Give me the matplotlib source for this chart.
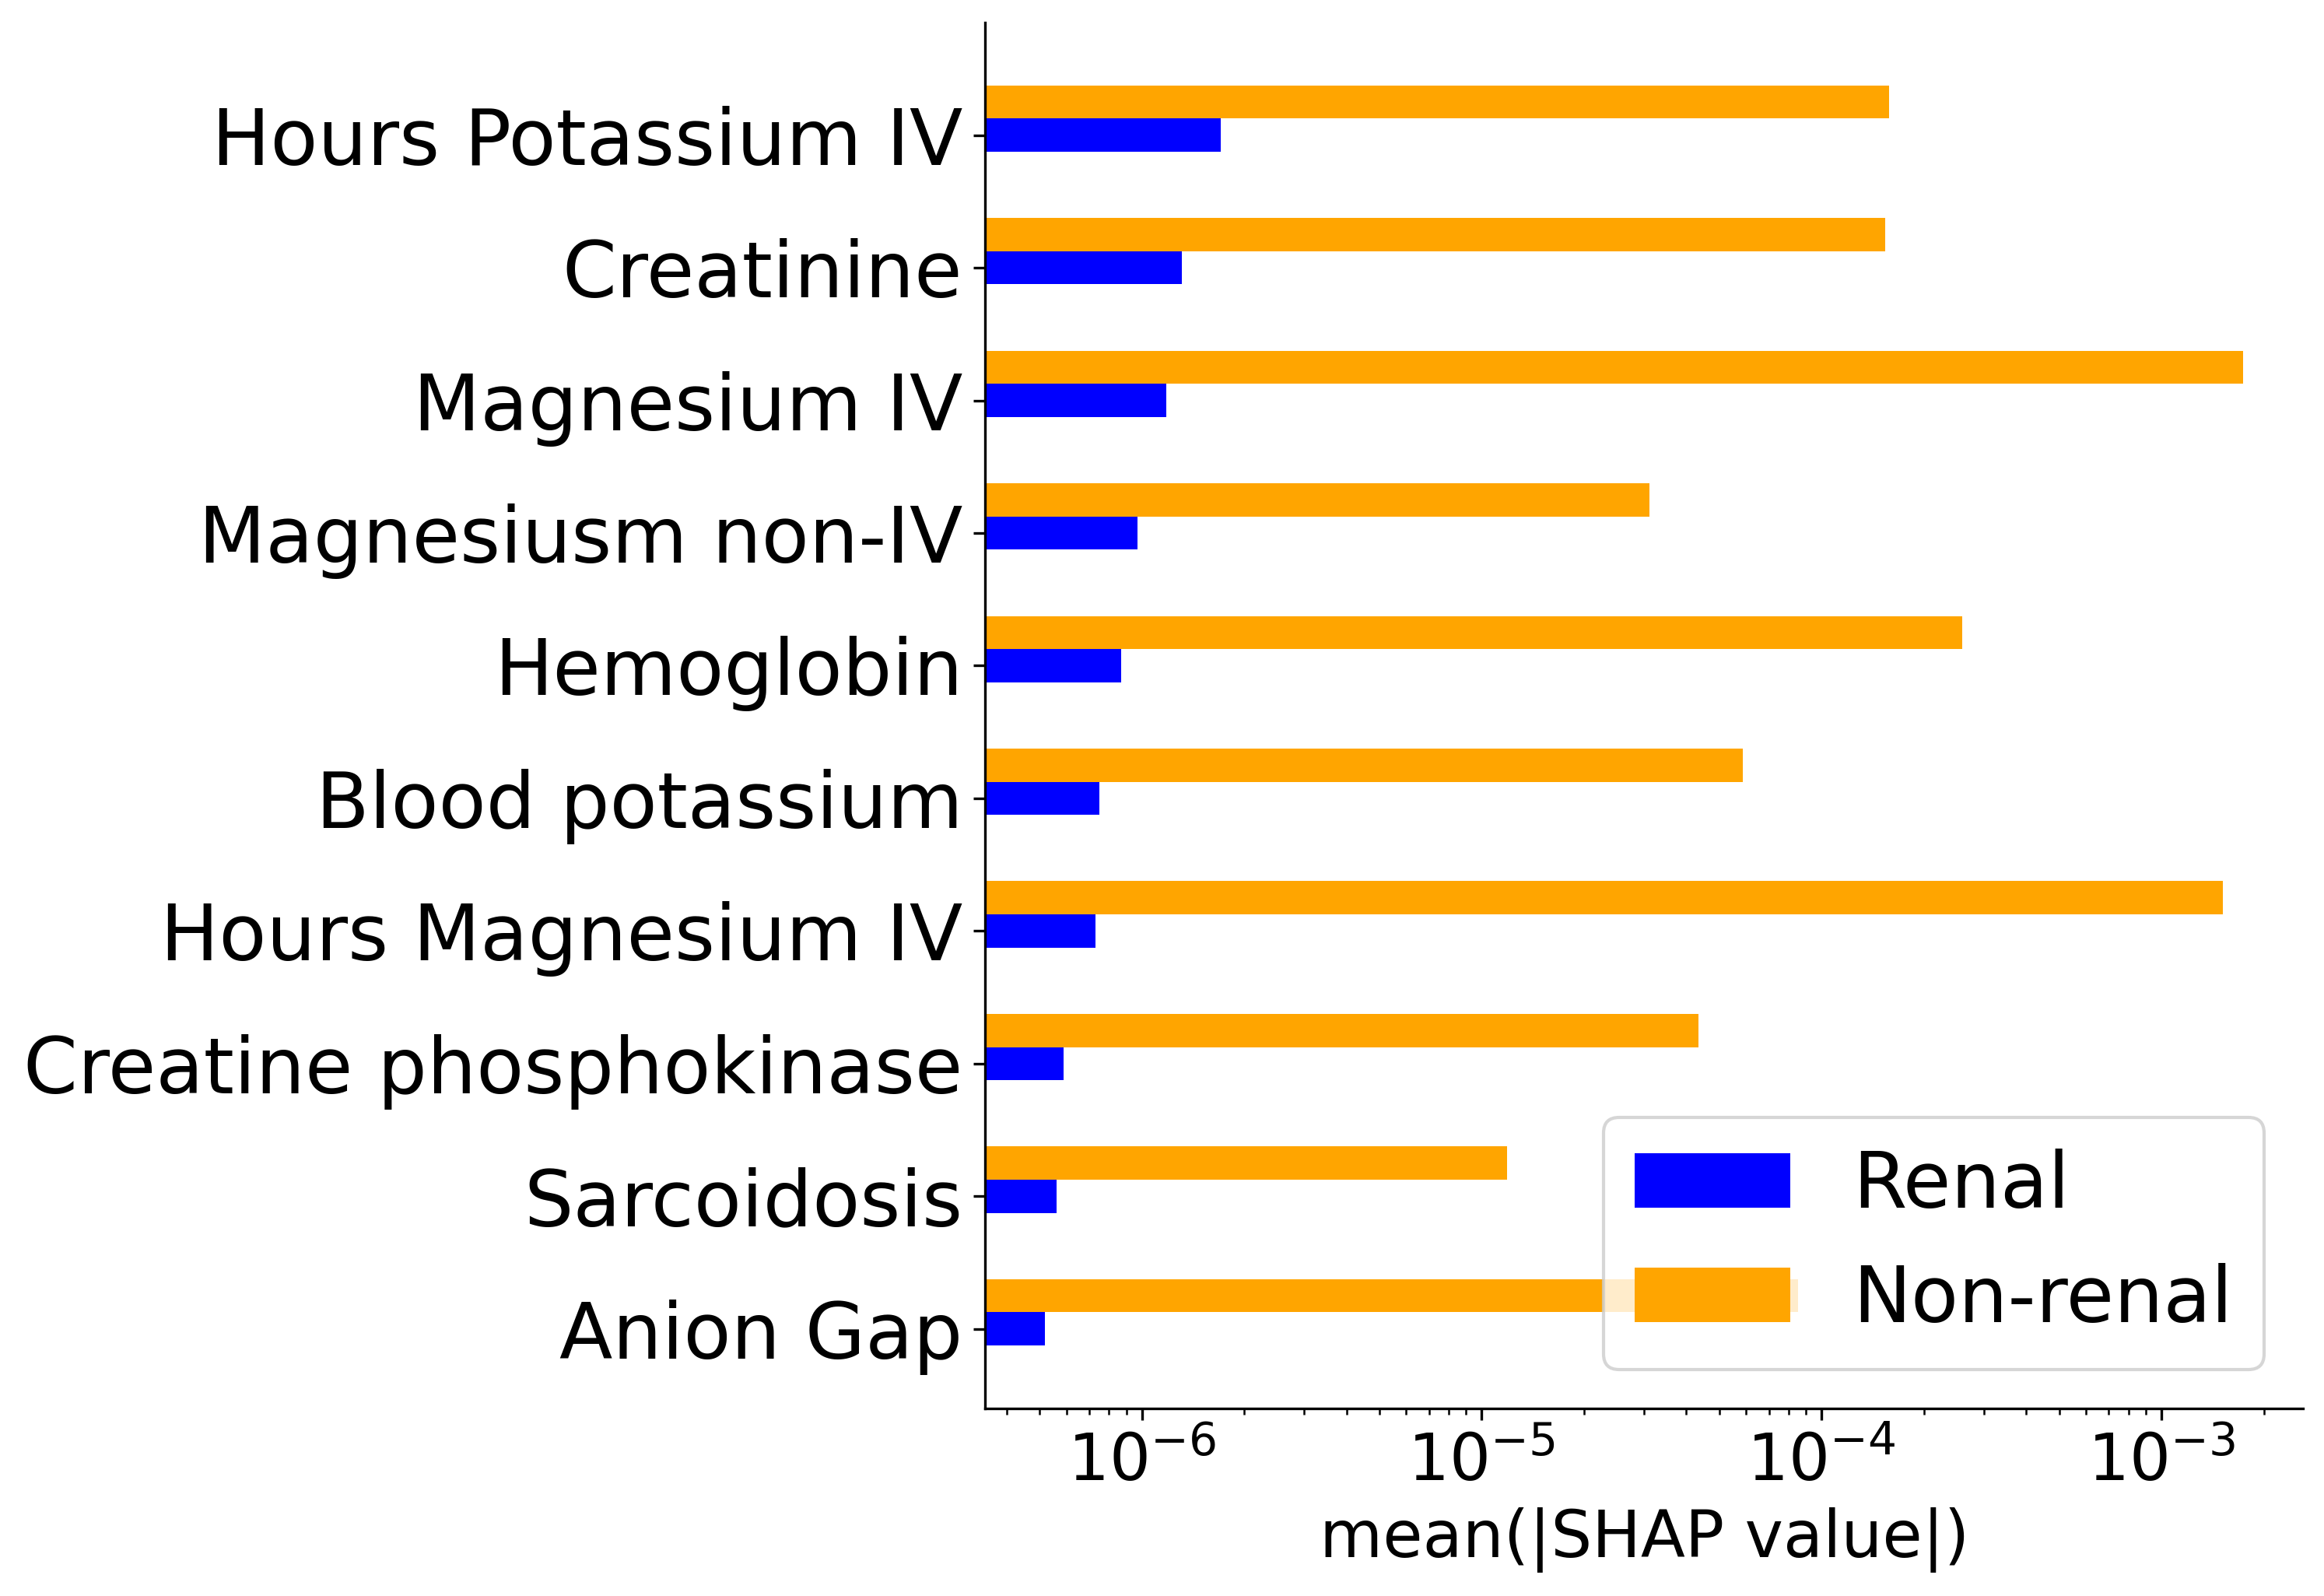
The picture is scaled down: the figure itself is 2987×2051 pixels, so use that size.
import matplotlib
matplotlib.use("Agg")
import matplotlib.pyplot as plt
import numpy as np

# mean(|SHAP value|) per feature (top -> bottom)
features = [
    "Hours Potassium IV",
    "Creatinine",
    "Magnesium IV",
    "Magnesiusm non-IV",
    "Hemoglobin",
    "Blood potassium",
    "Hours Magnesium IV",
    "Creatine phosphokinase",
    "Sarcoidosis",
    "Anion Gap",
]
renal = [1.71e-6, 1.31e-6, 1.18e-6, 9.7e-7, 8.7e-7, 7.5e-7, 7.3e-7, 5.9e-7, 5.6e-7, 5.2e-7]
non_renal = [1.58e-4, 1.54e-4, 1.74e-3, 3.12e-5, 2.60e-4, 5.86e-5, 1.52e-3, 4.34e-5, 1.19e-5, 8.53e-5]

height = 0.25
y = np.arange(len(features))[::-1]  # first feature at the top

fig, ax = plt.subplots(figsize=(2987 / 300, 2051 / 300), dpi=300)
fig.subplots_adjust(left=0.424, right=0.991, top=0.986, bottom=0.1175)

ax.barh(y, renal, height=height, color="blue", label="Renal")
ax.barh(y + height, non_renal, height=height, color="orange", label="Non-renal")
ax.set_xscale("log")

ax.set_yticks(y)
ax.set_yticklabels(features, fontsize=24)
ax.tick_params(axis="x", labelsize=20)
ax.set_xlabel("mean(|SHAP value|)", fontsize=20)

ax.spines["top"].set_visible(False)
ax.spines["right"].set_visible(False)
ax.legend(loc="lower right", fontsize=24)

fig.savefig("out.png", dpi=300)
